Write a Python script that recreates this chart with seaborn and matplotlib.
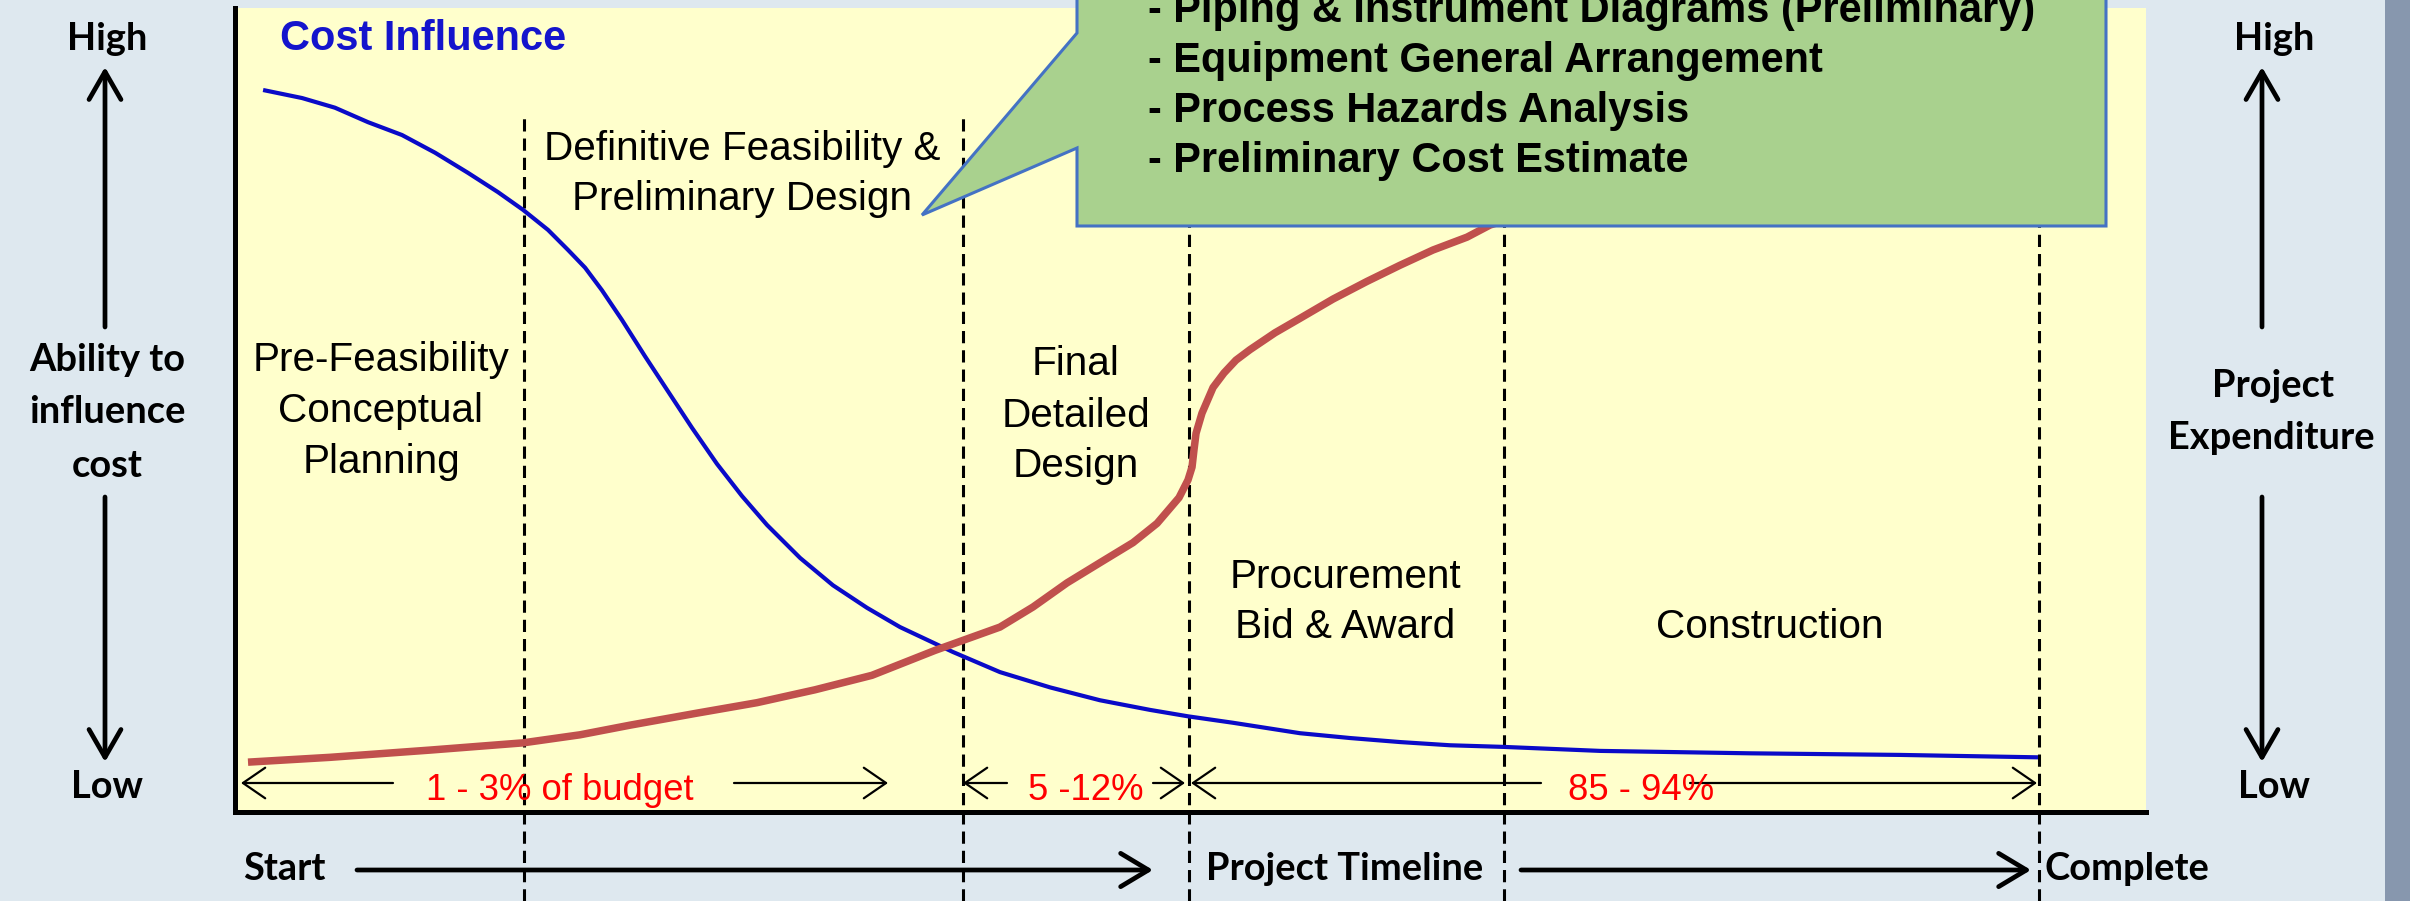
import matplotlib
matplotlib.use("Agg")
import matplotlib.pyplot as plt
import seaborn as sns
import pandas as pd
from matplotlib.patches import FancyArrowPatch, Polygon, Rectangle

# ---------------- data ----------------
# x: project timeline (0-100 %), y: relative level (0-100 %)
timeline_influence = [1.47, 3.51, 5.23, 6.96, 8.74, 10.47, 12.19, 13.76, 15.07, 16.38,
                      17.43, 18.32, 19.20, 20.25, 21.45, 22.61, 23.91, 25.22, 26.53,
                      27.84, 29.57, 31.29, 33.07, 34.80, 37.57, 40.03, 42.65, 45.26,
                      47.88, 49.87, 52.22, 55.73, 58.35, 60.96, 63.58, 66.35, 71.43,
                      79.28, 87.13, 94.35]
cost_influence = [89.8, 88.8, 87.6, 85.8, 84.2, 82.0, 79.5, 77.1, 74.9, 72.4,
                  69.9, 67.7, 64.9, 61.2, 56.7, 52.5, 47.8, 43.3, 39.3,
                  35.7, 31.6, 28.2, 25.4, 23.0, 19.9, 17.4, 15.5, 13.9,
                  12.7, 11.9, 11.1, 9.8, 9.2, 8.7, 8.3, 8.1, 7.6,
                  7.3, 7.1, 6.8]

timeline_expenditure = [0.68, 4.97, 10.20, 15.07, 18.05, 20.67, 24.18, 27.32, 30.35,
                        33.33, 36.63, 40.03, 41.76, 43.54, 45.26, 46.99, 48.25, 49.40,
                        49.87, 50.08, 50.18, 50.29, 50.60, 51.18, 51.75, 52.38, 53.11,
                        54.42, 55.73, 57.46, 59.24, 60.96, 62.69, 64.47, 65.67, 71.43,
                        81.89, 94.35]
project_expenditure = [6.2, 6.8, 7.7, 8.6, 9.6, 10.8, 12.3, 13.6, 15.2,
                       17.0, 20.1, 23.0, 25.5, 28.5, 31.0, 33.5, 35.9, 39.1,
                       41.3, 42.9, 45.0, 47.1, 49.6, 52.8, 54.6, 56.2, 57.5,
                       59.6, 61.4, 63.8, 66.0, 68.0, 69.9, 71.5, 73.0, 77.4,
                       83.0, 86.7]

phase_bounds = [15.1, 38.1, 49.9, 66.4, 94.4]
phase_labels = [
    ["Pre-Feasibility", "Conceptual", "Planning"],
    ["Definitive Feasibility &", "Preliminary Design"],
    ["Final", "Detailed", "Design"],
    ["Procurement", "Bid & Award"],
    ["Construction"],
]
budget_labels = ["1 - 3% of budget", "5 -12%", "85 - 94%"]
callout_items = [
    "- Piping & Instrument Diagrams (Preliminary)",
    "- Equipment General Arrangement",
    "- Process Hazards Analysis",
    "- Preliminary Cost Estimate",
]

# ---------------- styling ----------------
W, H, DPI = 2410, 901, 100
BG = "#DEE8EF"
YELLOW = "#FFFFCC"
BLUE = "#0A0AC8"
RED = "#C0504D"

sns.set_theme(style="white")
plt.rcParams["font.family"] = ["Liberation Sans", "DejaVu Sans"]

fig = plt.figure(figsize=(W / DPI, H / DPI), dpi=DPI, facecolor=BG)


def fx(px):
    return px / W


def fy(py):
    return 1 - py / H


def pt(px):
    return px * 72 / DPI


# right-hand darker strip of the slide background
fig.add_artist(Rectangle((fx(2385), 0), fx(30), 1, transform=fig.transFigure,
                         facecolor="#8797AE", edgecolor="none", zorder=0.1))

ax = fig.add_axes([fx(235), fy(812), (2146 - 235) / W, (812 - 8) / H])
ax.set_facecolor(YELLOW)
ax.set_xlim(0, 100)
ax.set_ylim(0, 100)
ax.set_xticks([])
ax.set_yticks([])
for s in ["top", "right"]:
    ax.spines[s].set_visible(False)
for s in ["left", "bottom"]:
    ax.spines[s].set_color("black")
    ax.spines[s].set_linewidth(3.6)

# phase boundaries
ax.vlines(phase_bounds, -11.1, 86.3, colors="black", linewidth=2.2,
          linestyles=(0, (4, 2.3)), clip_on=False, zorder=2)

# curves
sns.lineplot(x=timeline_influence, y=cost_influence, ax=ax, color=BLUE,
             linewidth=3.0, estimator=None, solid_capstyle="butt",
             solid_joinstyle="round", zorder=3)
sns.lineplot(x=timeline_expenditure, y=project_expenditure, ax=ax, color=RED,
             linewidth=5.4, estimator=None, solid_capstyle="butt",
             solid_joinstyle="round", zorder=4)


def ftext(px, py, s, **kw):
    fig.text(fx(px), fy(py), s, **kw)


# phase labels (center x, baselines)
phase_pos = [
    (381, [371, 422, 473]),
    (742, [160, 210]),
    (1076, [375, 427, 477]),
    (1345, [588, 638]),
    (1770, [638]),
]
for (cx, bases), lines in zip(phase_pos, phase_labels):
    for b, line in zip(bases, lines):
        ftext(cx, b, line, ha="center", va="baseline", fontsize=pt(40.5),
              color="black", zorder=4)

ftext(280, 50, "Cost Influence", ha="left", va="baseline", fontsize=pt(41.5),
      fontweight="bold", color="#1414CC", zorder=4)


def farrow(x1, y1, x2, y2, lw, hl, hw, z=4):
    fig.add_artist(FancyArrowPatch((fx(x1), fy(y1)), (fx(x2), fy(y2)),
                                   transform=fig.transFigure,
                                   arrowstyle=f"->,head_length={hl},head_width={hw}",
                                   mutation_scale=1, lw=lw, color="black",
                                   shrinkA=0, shrinkB=0, zorder=z))


# budget range arrows
range_arrows = [(393, 241), (734, 888), (1007, 963), (1153, 1185),
                (1541, 1191), (1690, 2037)]
for a, b in range_arrows:
    farrow(a, 783, b, 783, 1.6, 16, 11)

for (x0, lab) in zip([426, 1028, 1568], budget_labels):
    ftext(x0, 800, lab, ha="left", va="baseline", fontsize=pt(36.5),
          color="#FF0000", zorder=4)

# side labels (bold, Calibri-like)
side_kw = dict(ha="center", va="baseline", fontsize=pt(38), fontweight="bold",
               fontfamily=["Lato", "DejaVu Sans"], color="black", zorder=4)
ftext(107, 50, "High", **side_kw)
ftext(107, 371, "Ability to", **side_kw)
ftext(107, 423, "influence", **side_kw)
ftext(107, 477, "cost", **side_kw)
ftext(107, 798, "Low", **side_kw)
ftext(2274, 50, "High", **side_kw)
ftext(2273, 397, "Project", **side_kw)
ftext(2271, 449, "Expenditure", **side_kw)
ftext(2274, 798, "Low", **side_kw)

for xa in (105, 2262):
    farrow(xa, 327, xa, 67, 3.4, 20, 11.5)
    farrow(xa, 497, xa, 762, 3.4, 20, 11.5)

# bottom timeline
tl_kw = dict(va="baseline", fontsize=pt(38), fontweight="bold",
             fontfamily=["Lato", "DejaVu Sans"], color="black", zorder=4)
ftext(243, 880, "Start", ha="left", **tl_kw)
ftext(1345, 880, "Project Timeline", ha="center", **tl_kw)
ftext(2044, 880, "Complete", ha="left", **tl_kw)
farrow(357, 870, 1153, 870, 3.4, 20, 12)
farrow(1521, 870, 2031, 870, 3.4, 20, 12)

# callout (its top runs past the top edge, as in the original slide crop)
callout = [(1077, -10), (2106, -10), (2106, 226), (1077, 226), (1077, 148),
           (922, 215), (1077, 33)]
fig.add_artist(Polygon([(fx(x), fy(y)) for x, y in callout], closed=True,
                       transform=fig.transFigure, facecolor="#A9D18E",
                       edgecolor="#4472C4", lw=2.2, zorder=5))
for b, item in zip([22, 72, 122, 172], callout_items):
    ftext(1148, b, item, ha="left", va="baseline", fontsize=pt(41.5),
          fontweight="bold", color="black", zorder=6)

fig.savefig("out.png", dpi=DPI, facecolor=BG)
